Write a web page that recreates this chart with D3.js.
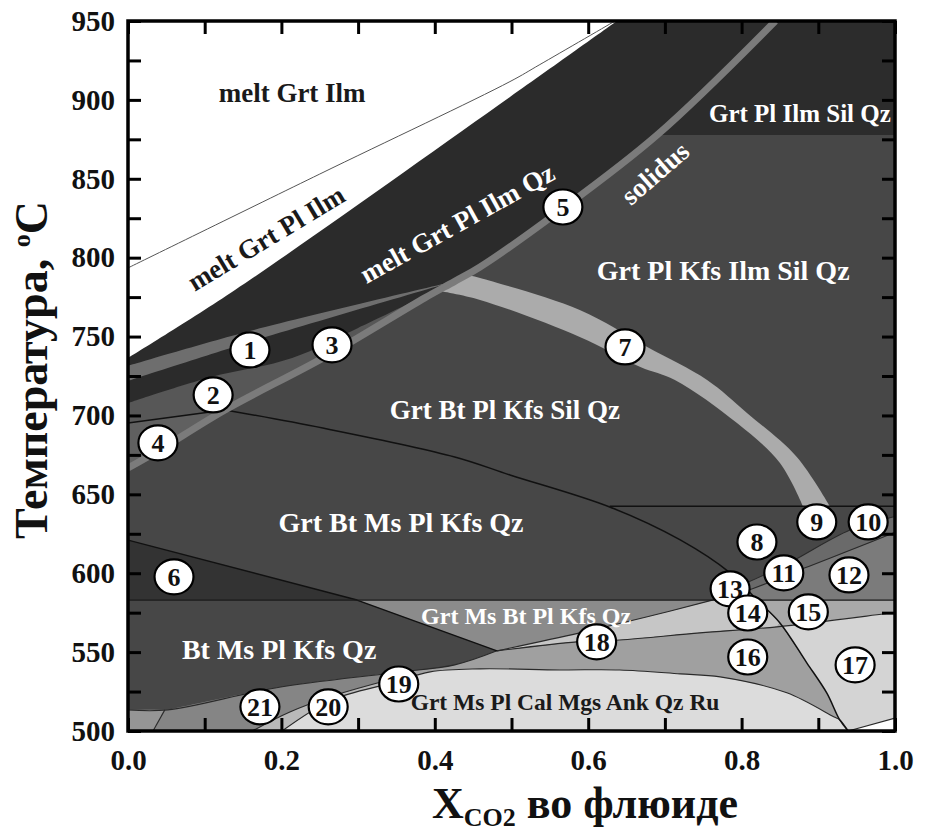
<!DOCTYPE html>
<html><head><meta charset="utf-8">
<script src="https://cdnjs.cloudflare.com/ajax/libs/d3/7.8.5/d3.min.js"></script>
<style>
body{margin:0;background:#fff}
svg{display:block}
text{font-family:"Liberation Serif","Times New Roman",serif;font-weight:bold}
</style>
</head><body>
<svg id="c" width="926" height="838"></svg>
<script>
// ---------- axis values ----------
const xDomain = [0, 1];
const yDomain = [500, 950];
const xTickValues = [0,0.1,0.2,0.3,0.4,0.5,0.6,0.7,0.8,0.9,1.0];
const xTickLabels = ["0.0","0.2","0.4","0.6","0.8","1.0"];
const yTickValues = [500,525,550,575,600,625,650,675,700,725,750,775,800,825,850,875,900,925,950];
const yTickLabels = [500,550,600,650,700,750,800,850,900,950];

// ---------- boundary curves [X_CO2, T °C] ----------
const solidus = [[0,666.7],[0.039,677.5],[0.1265,703.5],[0.257,737.1],[0.387,774.5],[0.426,785],[0.459,794.1],[0.559,828.3],[0.690,877.8],[0.844,950]];
const thinLine = [[0,793.5],[0.25,853],[0.498,911.6],[0.537,922.4],[0.635,950]];
const meltBoundary = [[0,736.4],[0.1395,779.5],[0.498,901.8],[0.6375,950]];
const lineA = [[0,731.4],[0.159,753.5],[0.426,785]];
const lineB = [[0,721.9],[0.159,746.6],[0.426,785]];
const lineC = [[0,707.9],[0.104,723.8],[0.214,736.4],[0.3,755.4],[0.426,785]];
const lineD = [[0,695.2],[0.1265,703.5]];
const btOut = [[0.1265,703.5],[0.254,692],[0.426,673.7],[0.498,662.3],[0.628,642.0],[0.720,621.1],[0.785,600.2],[0.820,583.1],[0.850,568.5],[0.885,543.2],[0.911,524.1],[0.928,507],[0.939,500]];
const band7Upper = [[0.4394,789.5],[0.459,787.1],[0.589,766.9],[0.677,743.4],[0.755,722.5],[0.807,701.6],[0.872,673.7],[0.915,642.5]];
const band7Lower = [[0.405,779],[0.459,773.2],[0.589,749.7],[0.668,730.7],[0.713,722.5],[0.794,695.2],[0.850,669.9],[0.880,642.5]];
const iso643 = [[0.628,642.5],[1,642.5]];
const iso583 = [[0,583],[1,583]];
const silTop = [[0.690,877.8],[1,877.8]];
const grtIn = [[0,621],[0.2986,583],[0.481,550.8]];
const lineL1 = [[0,513.4],[0.052,513.4],[0.192,527.3],[0.344,536.8],[0.426,541.9],[0.481,550.8]];
const lineG1F2 = [[0.481,550.8],[0.589,562.2],[0.677,572.4],[0.763,583.1],[0.806,588.8],[0.8827,603.4],[0.9974,625.5],[1,626.2]];
const lineF1 = [[0.80,592.5],[0.857,605.3],[0.9413,627.4],[1,636]];
const lineG2 = [[0.481,550.8],[0.5854,556.5],[0.641,557.7],[0.7458,562.2],[0.8462,566.0],[0.9974,574.9],[1,575]];
const lineL2 = [[0.2008,500],[0.266,519.7],[0.344,530.5],[0.394,537.5],[0.459,539.4],[0.563,538.7],[0.641,538.7],[0.720,536.2],[0.772,534.3],[0.859,524.2],[0.92,509],[0.928,507],[0.939,500]];
const lineM = [[0.162,500],[0.211,512.1],[0.263,521.6],[0.33,531]];
const lineN = [[0.048,513.4],[0.0326,500]];
const lineBR = [[0.939,500],[1,508.2]];

// ---------- field labels ----------
const fieldLabels = [
  {t:"melt Grt Ilm", x:0.214, y:904.4, r:0, c:"#1a1a1a", s:27},
  {t:"melt Grt Pl Ilm", x:0.18, y:812.5, r:-31, c:"#1a1a1a", s:27},
  {t:"melt Grt Pl Ilm Qz", x:0.429, y:822, r:-29, c:"#fff", s:27},
  {t:"solidus", x:0.687, y:853.7, r:-41, c:"#fff", s:27},
  {t:"Grt Pl Ilm Sil Qz", x:0.876, y:891.7, r:0, c:"#fff", s:25},
  {t:"Grt Pl Kfs Ilm Sil Qz", x:0.776, y:792.2, r:0, c:"#fff", s:28},
  {t:"Grt Bt Pl Kfs Sil Qz", x:0.4915, y:703.5, r:0, c:"#fff", s:27},
  {t:"Grt Bt Ms Pl Kfs Qz", x:0.356, y:632.5, r:0, c:"#fff", s:28},
  {t:"Grt Ms Bt Pl Kfs Qz", x:0.519, y:573, r:0, c:"#fff", s:24},
  {t:"Bt Ms Pl Kfs Qz", x:0.197, y:552, r:0, c:"#fff", s:28},
  {t:"Grt Ms Pl Cal Mgs Ank Qz Ru", x:0.5698, y:518.5, r:0, c:"#1a1a1a", s:23.5}
];
const circleNums = [1,2,3,4,5,6,7,8,9,10,11,12,13,14,15,16,17,18,19,20,21];
const circleX = [0.159,0.111,0.266,0.039,0.567,0.060,0.648,0.820,0.898,0.965,0.855,0.940,0.785,0.808,0.887,0.808,0.948,0.611,0.353,0.261,0.172];
const circleT = [741.5,713.0,744.7,682.6,832.1,597.7,743.4,619.8,632.5,632.5,600.2,598.9,590.1,574.8,575.5,546.9,541.9,556.5,529.8,515.3,515.3];

// ---------- scales ----------
const x = d3.scaleLinear().domain(xDomain).range([128, 895]);
const y = d3.scaleLinear().domain(yDomain).range([731, 21]);
const svg = d3.select("#c");
const lineS = d3.line().x(d => x(d[0])).y(d => y(d[1])).curve(d3.curveCatmullRom.alpha(0.5));
const lineL = d3.line().x(d => x(d[0])).y(d => y(d[1]));
const rev = a => a.slice().reverse();
const S = a => ({s: a});
// closed path out of pieces; S(...) pieces are smooth, plain arrays are straight
function pathOf(pieces) {
  let out = "";
  pieces.forEach((p, i) => {
    const pts = p.s ? p.s : p;
    let d;
    if (pts.length === 1) d = "M" + x(pts[0][0]) + "," + y(pts[0][1]);
    else d = (p.s ? lineS : lineL)(pts);
    if (i > 0) d = d.replace(/^M/, "L");
    out += d;
  });
  return out + "Z";
}

svg.append("defs").append("clipPath").attr("id","clip")
  .append("rect").attr("x",x(0)).attr("y",y(950)).attr("width",x(1)-x(0)).attr("height",y(500)-y(950));

const g = svg.append("g").attr("clip-path","url(#clip)");
const fill = (pieces, col) => g.append("path").attr("d", pathOf(pieces)).attr("fill", col);
const stroke = (pts, col, w, straight) => g.append("path").attr("d", (straight ? lineL : lineS)(pts)).attr("fill","none")
  .attr("stroke", col).attr("stroke-width", w).attr("stroke-linejoin","round");

// background field
fill([[[0,500],[1,500],[1,950],[0,950]]], "#474747");
// melt field above solidus
fill([S(solidus), [[0,950]]], "#2b2b2b");
// Grt Pl Ilm Sil Qz
fill([S(solidus.slice(8)), [[1,950], silTop[1]]], "#2c2c2c");
// white melt fields
fill([S(meltBoundary), [[0,950]]], "#ffffff");
// wedge 1
fill([S(lineA), S(rev(lineB))], "#6e6e6e");
// field between C and solidus (2,3)
fill([S(lineC), S(rev(solidus.slice(0,6)))], "#575757");
// field 4
fill([lineD, S(rev(solidus.slice(0,3)))], "#606060");
// band 7
fill([S(band7Upper), S(rev(band7Lower))], "#ababab");
// field 6
fill([[grtIn[0], grtIn[1], [0,583]]], "#333333");
// fields 11, 12, 13
fill([S(lineF1), S(rev(lineG1F2.slice(4)))], "#6a6a6a");
fill([S(lineG1F2.slice(4)), [[1,583], btOut[7]]], "#7b7b7b");
fill([[lineG1F2[3], lineG1F2[4], btOut[7]]], "#9c9c9c");
// Grt Ms Bt Pl Kfs Qz
fill([grtIn.slice(1), S(lineG1F2.slice(1,4))], "#8b8b8b");
// field 14
fill([S(lineG1F2.slice(0,4)), btOut.slice(7,9), S(rev(lineG2.slice(0,5)))], "#c6c6c6");
// field 16 (+19)
fill([S(lineL1), S(lineG2.slice(1,5)), S(btOut.slice(8)), [[0,500]]], "#a0a0a0");
// fields 17 and 15
fill([[btOut[7], [1,583], [1,500]], S(rev(btOut.slice(7)))], "#d4d4d4");
fill([[btOut[7], [1,583]], S(rev(lineG2.slice(4))), [btOut[8]]], "#a9a9a9");
// lightest field
fill([S(lineL2)], "#dcdcdc");
// fields 21, 20 and left corner
fill([rev(lineN), S(lineL1.slice(1,4)), S(rev(lineM))], "#858585");
fill([S(lineM), S(rev(lineL2.slice(0,3)))], "#b9b9b9");
fill([[[0,500],[0,513.4], lineN[0], lineN[1]]], "#959595");
// white corner bottom right
fill([[...lineBR, [1,500]]], "#ffffff");

// boundary lines
stroke(thinLine, "#555", 1);
[lineL1, lineG1F2, lineF1, lineG2, lineL2, lineM, lineN, lineBR].forEach(l => stroke(l, "#2a2a2a", 1.1));
stroke(grtIn, "#111", 1.4, true);
stroke(iso583, "#1a1a1a", 1.3, true);
stroke(iso643, "#111", 1.5, true);
stroke(lineD, "#111", 1.5, true);
stroke(btOut, "#111", 1.5);
stroke(solidus, "#7b7b7b", 7);

// field labels
fieldLabels.forEach(d => {
  g.append("text")
    .attr("transform", `translate(${x(d.x)},${y(d.y)}) rotate(${d.r})`)
    .attr("text-anchor","middle").attr("dy","0.35em")
    .attr("font-size", d.s).attr("fill", d.c).text(d.t);
});

// numbered circles
const cg = svg.append("g");
circleNums.forEach((n, i) => {
  const cx = x(circleX[i]), cy = y(circleT[i]);
  cg.append("ellipse").attr("cx",cx).attr("cy",cy).attr("rx",19.5).attr("ry",17.5)
    .attr("fill","#fff").attr("stroke","#000").attr("stroke-width",2.2);
  cg.append("text").attr("x",cx).attr("y",cy).attr("dy","0.35em").attr("text-anchor","middle")
    .attr("font-size",26).attr("fill","#111").text(n);
});

// frame
svg.append("rect").attr("x",x(0)).attr("y",y(950)).attr("width",x(1)-x(0)).attr("height",y(500)-y(950))
  .attr("fill","none").attr("stroke","#000").attr("stroke-width",3.5);

// axes
const fmtX = d => { const s = d.toFixed(1); return xTickLabels.includes(s) ? s : ""; };
const fmtY = d => yTickLabels.includes(d) ? String(d) : "";
const axB = svg.append("g").attr("transform",`translate(0,${y(500)})`)
  .call(d3.axisBottom(x).tickValues(xTickValues).tickSize(-13).tickPadding(18).tickFormat(fmtX));
const axT = svg.append("g").attr("transform",`translate(0,${y(950)})`)
  .call(d3.axisTop(x).tickValues(xTickValues).tickSize(-13).tickFormat(""));
const axL = svg.append("g").attr("transform",`translate(${x(0)},0)`)
  .call(d3.axisLeft(y).tickValues(yTickValues).tickSize(-13).tickPadding(13).tickFormat(fmtY));
const axR = svg.append("g").attr("transform",`translate(${x(1)},0)`)
  .call(d3.axisRight(y).tickValues(yTickValues).tickSize(-13).tickFormat(""));
[axB, axT, axL, axR].forEach(a => {
  a.select(".domain").remove();
  a.selectAll(".tick line").attr("stroke","#000").attr("stroke-width",3);
  a.selectAll("text").attr("font-size",29).attr("fill","#111")
    .attr("font-family","Liberation Serif").attr("font-weight","bold");
});

// axis titles
const yt = svg.append("text").attr("transform","translate(47,370) rotate(-90)")
  .attr("text-anchor","middle").attr("font-size",46).attr("fill","#111");
yt.append("tspan").text("Температура, ");
yt.append("tspan").attr("font-size",26).attr("dy",-17).text("o");
yt.append("tspan").attr("dy",17).text("C");

const xt = svg.append("text").attr("x",585).attr("y",818)
  .attr("text-anchor","middle").attr("font-size",44).attr("fill","#111");
xt.append("tspan").text("X");
xt.append("tspan").attr("font-size",26).attr("dy",8).text("CO2");
xt.append("tspan").attr("dy",-8).text(" во флюиде");
</script>
</body></html>
